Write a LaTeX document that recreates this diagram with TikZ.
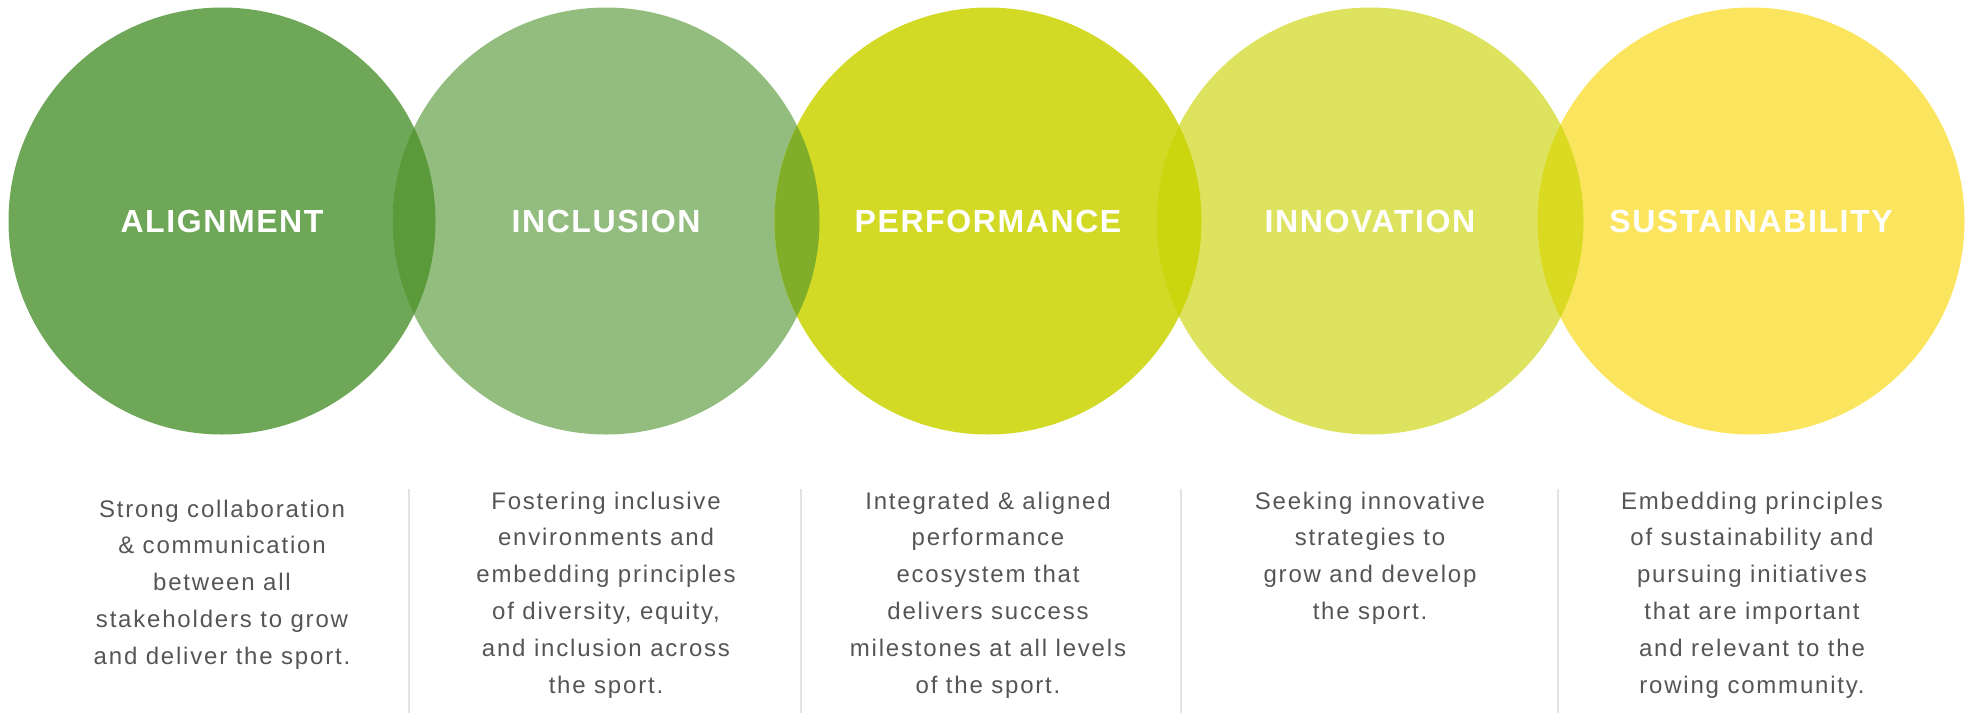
\documentclass[tikz,border=0pt]{standalone}
\usepackage{xcolor}
\usepackage{tikz}
\usepackage{fontspec}
\setmainfont{Liberation Sans}
\newfontfamily\headfont[LetterSpace=5]{Liberation Sans}
\newfontfamily\bodyfont[LetterSpace=7.5]{Liberation Sans}

\definecolor{alignfill}{HTML}{6EA757}
\definecolor{inclfill}{HTML}{93BD7F}
\definecolor{perffill}{HTML}{D3DA26}
\definecolor{innofill}{HTML}{DDE35E}
\definecolor{sustfill}{HTML}{FCE55E}
\definecolor{lensab}{HTML}{5A9A3A}
\definecolor{lensbc}{HTML}{80AE28}
\definecolor{lenscd}{HTML}{CCD60F}
\definecolor{lensde}{HTML}{DADA22}
\definecolor{bodygrey}{HTML}{555555}
\definecolor{rulegrey}{HTML}{E3E3E3}

\begin{document}
\begin{tikzpicture}[x=1pt,y=-1pt,
  disc/.style={circle,inner sep=0pt,minimum size=427pt},
  heading/.style={text=white,inner sep=0pt,font=\headfont\bfseries\fontsize{32}{38}\selectfont},
  blurb/.style={anchor=north,inner sep=0pt,align=center,text=bodygrey,font=\bodyfont\fontsize{24}{36.8}\selectfont},
  divider/.style={draw=rulegrey,line width=1.5pt}]
\useasboundingbox (0,0) rectangle (1975,713);

% the five circles
\node[disc,fill=alignfill] (c1) at (222,221) {};
\node[disc,fill=inclfill] (c2) at (606,221) {};
\node[disc,fill=perffill] (c3) at (988,221) {};
\node[disc,fill=innofill] (c4) at (1370,221) {};
\node[disc,fill=sustfill] (c5) at (1751,221) {};

% overlaps
\begin{scope}
\clip (c1.center) circle [radius=213.5pt];
\fill[lensab] (c2.center) circle [radius=213.5pt];
\end{scope}
\begin{scope}
\clip (c2.center) circle [radius=213.5pt];
\fill[lensbc] (c3.center) circle [radius=213.5pt];
\end{scope}
\begin{scope}
\clip (c3.center) circle [radius=213.5pt];
\fill[lenscd] (c4.center) circle [radius=213.5pt];
\end{scope}
\begin{scope}
\clip (c4.center) circle [radius=213.5pt];
\fill[lensde] (c5.center) circle [radius=213.5pt];
\end{scope}

% headings
\node[heading] (h1) at (c1) {ALIGNMENT};
\node[heading] (h2) at (c2) {INCLUSION};
\node[heading] (h3) at (c3) {PERFORMANCE};
\node[heading] (h4) at (c4) {INNOVATION};
\node[heading] (h5) at (c5) {SUSTAINABILITY};

% descriptions
\node[blurb] (d1) at (222,499.5) {Strong collaboration\\ \& communication\\ between all\\ stakeholders to grow\\ and deliver the sport.};
\node[blurb] (d2) at (606,491.5) {Fostering inclusive\\ environments and\\ embedding principles\\ of diversity, equity,\\ and inclusion across\\ the sport.};
\node[blurb] (d3) at (988,491.5) {Integrated \& aligned\\ performance\\ ecosystem that\\ delivers success\\ milestones at all levels\\ of the sport.};
\node[blurb] (d4) at (1370,491.5) {Seeking innovative\\ strategies to\\ grow and develop\\ the sport.};
\node[blurb] (d5) at (1752,491.5) {Embedding principles\\ of sustainability and\\ pursuing initiatives\\ that are important\\ and relevant to the\\ rowing community.};

% dividers
\coordinate (r1a) at (409,489);
\coordinate (r1b) at (409,713);
\coordinate (r2a) at (801,489);
\coordinate (r2b) at (801,713);
\coordinate (r3a) at (1181,489);
\coordinate (r3b) at (1181,713);
\coordinate (r4a) at (1558,489);
\coordinate (r4b) at (1558,713);
\draw[divider] (r1a) -- (r1b);
\draw[divider] (r2a) -- (r2b);
\draw[divider] (r3a) -- (r3b);
\draw[divider] (r4a) -- (r4b);
\end{tikzpicture}
\end{document}
